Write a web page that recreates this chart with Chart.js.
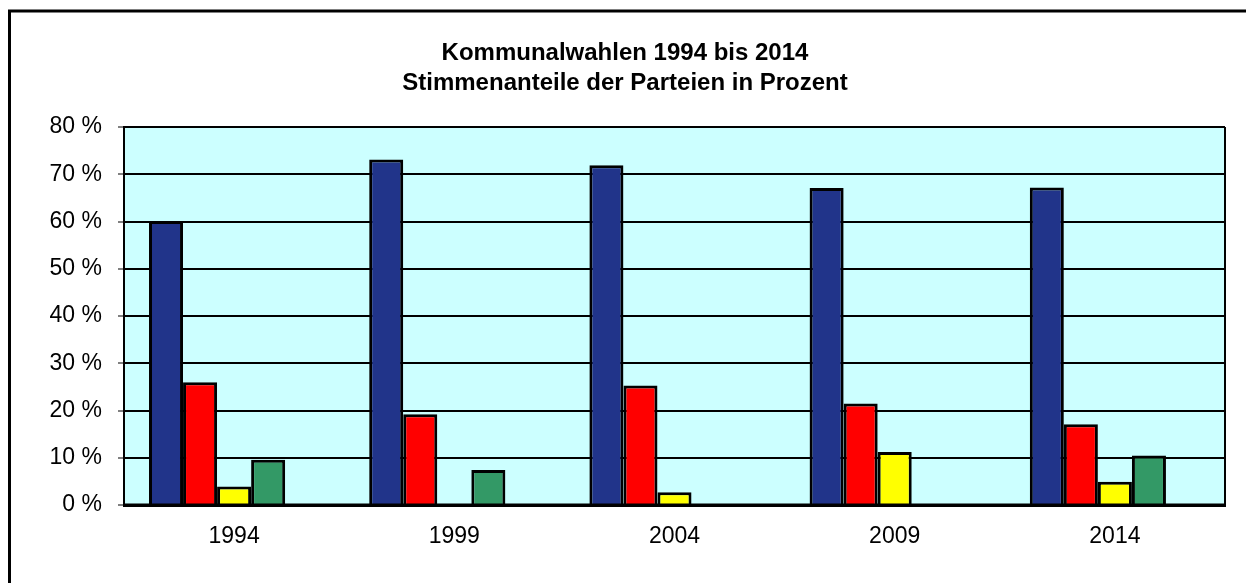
<!DOCTYPE html>
<html>
<head>
<meta charset="utf-8">
<script src="https://cdn.jsdelivr.net/npm/chart.js@4/dist/chart.umd.min.js"></script>
<style>
html,body{margin:0;padding:0;background:#fff;}
#wrap{width:1246px;height:583px;position:relative;}
</style>
</head>
<body>
<div id="wrap"><canvas id="c" width="1246" height="583"></canvas></div>
<script>
const titleLines = ['Kommunalwahlen 1994 bis 2014', 'Stimmenanteile der Parteien in Prozent'];
const categories = ['1994', '1999', '2004', '2009', '2014'];
const seriesNames = ['Partei 1', 'Partei 2', 'Partei 3', 'Partei 4', 'Partei 5'];
const seriesBlue   = [60.1, 73.1, 71.9, 67.1, 67.2];
const seriesRed    = [26.0, 19.2, 25.3, 21.5, 17.1];
const seriesYellow = [3.9, null, 2.7, 11.2, 4.9];
const seriesGreen  = [9.6, 7.4, null, null, 10.5];
const seriesOther  = [null, null, null, null, null];
const yTicks = [0, 10, 20, 30, 40, 50, 60, 70, 80];

const colors = ['#21348A', '#FF0000', '#FFFF00', '#339966', '#9999FF'];
const allSeries = [seriesBlue, seriesRed, seriesYellow, seriesGreen, seriesOther];

const framePlugin = {
  id: 'frame',
  beforeDraw(chart) {
    const ctx = chart.ctx, a = chart.chartArea;
    ctx.save();
    ctx.fillStyle = '#fff';
    ctx.fillRect(0, 0, chart.width, chart.height);
    ctx.strokeStyle = '#000';
    ctx.lineWidth = 3;
    ctx.strokeRect(9.5, 11, chart.width + 20, chart.height + 20);
    ctx.fillStyle = '#CCFFFF';
    ctx.fillRect(a.left, a.top, a.right - a.left, a.bottom - a.top);
    ctx.fillStyle = '#000';
    ctx.font = 'bold 24px "Liberation Sans", Arial, sans-serif';
    ctx.textAlign = 'center';
    ctx.textBaseline = 'alphabetic';
    ctx.fillText(titleLines[0], 625, 60);
    ctx.fillText(titleLines[1], 625, 90);
    ctx.restore();
  },
  afterDatasetsDraw(chart) {
    const ctx = chart.ctx, a = chart.chartArea;
    ctx.save();
    ctx.strokeStyle = '#000';
    ctx.lineWidth = 2;
    ctx.beginPath();
    ctx.moveTo(a.right, a.top);
    ctx.lineTo(a.right, a.bottom);
    ctx.stroke();
    ctx.lineWidth = 3;
    ctx.beginPath();
    ctx.moveTo(a.left, a.bottom);
    ctx.lineTo(a.right + 1, a.bottom);
    ctx.stroke();
    ctx.restore();
  }
};

new Chart(document.getElementById('c'), {
  type: 'bar',
  data: {
    labels: categories,
    datasets: allSeries.map((d, i) => ({
      label: seriesNames[i],
      data: d,
      backgroundColor: colors[i],
      borderColor: '#000',
      borderWidth: 3,
      categoryPercentage: 0.773,
      barPercentage: 1.0
    }))
  },
  options: {
    responsive: false,
    animation: false,
    devicePixelRatio: 1,
    layout: { padding: { left: 0, right: 21, top: 127, bottom: 0 } },
    plugins: { legend: { display: false }, title: { display: false }, tooltip: { enabled: false } },
    scales: {
      x: {
        grid: { display: false, drawTicks: false },
        border: { display: true, color: '#000', width: 3 },
        ticks: { color: '#000', font: { family: '"Liberation Sans", Arial, sans-serif', size: 23 }, padding: 18, maxRotation: 0 },
        afterFit(s) { s.height = 78; }
      },
      y: {
        min: 0, max: 80,
        afterBuildTicks(s) { s.ticks = yTicks.map(v => ({ value: v })); },
        grid: { color: '#000', lineWidth: 2, tickColor: '#808080', tickLength: 6, drawTicks: true },
        border: { display: true, color: '#000', width: 2 },
        ticks: { color: '#000', font: { family: '"Liberation Sans", Arial, sans-serif', size: 23 }, padding: 16,
                 callback: v => v + ' %' },
        afterFit(s) { s.width = 124; }
      }
    }
  },
  plugins: [framePlugin]
});
</script>
</body>
</html>
